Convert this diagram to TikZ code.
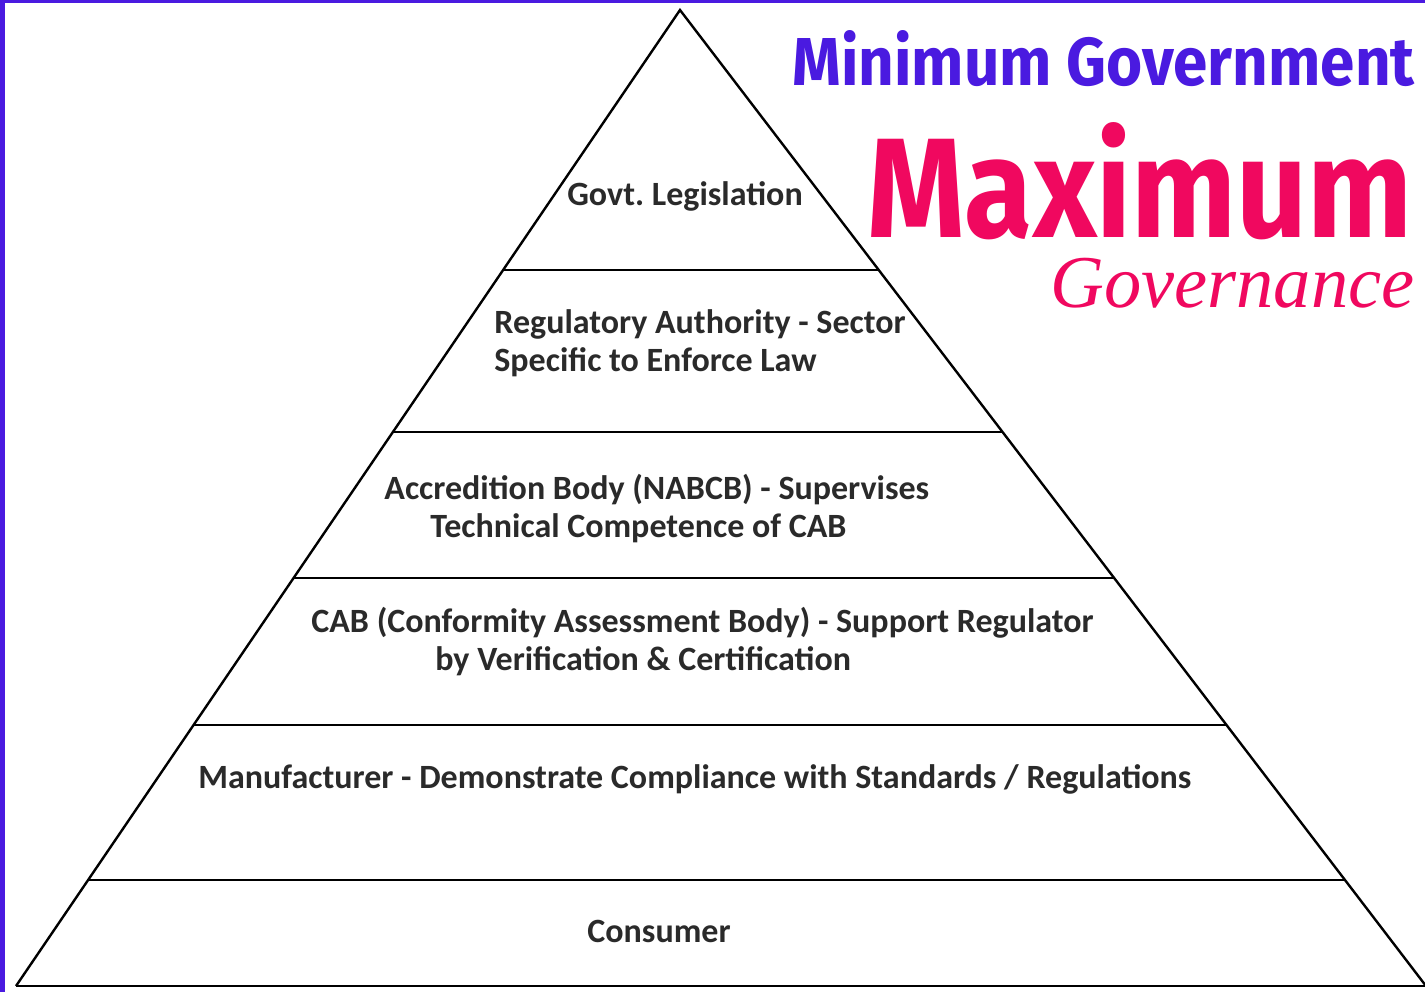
\documentclass[tikz,border=0pt]{standalone}
\usepackage{fontspec}
\usepackage{graphicx}
\setmainfont{Carlito}
\newfontfamily\titlefont{Fira Sans}
\newfontfamily\govfont{Liberation Serif}
\usetikzlibrary{calc}
\definecolor{framecol}{HTML}{4A1AE0}
\definecolor{magentacol}{HTML}{F0085F}
\definecolor{textcol}{HTML}{2A2A2A}
\tikzstyle{level} = [font=\fontsize{17}{20}\selectfont\bfseries, text=textcol, inner sep=0pt]
\tikzstyle{divider} = [black, line width=1.2pt]
\tikzstyle{title} = [inner sep=0pt, anchor=base east]

\begin{document}
\begin{tikzpicture}[x=0.5pt, y=-0.5pt]
		\useasboundingbox (0,0) rectangle (1425,992);
		\fill[white] (0,0) rectangle (1425,992);
		\fill[framecol] (0,0) rectangle (1425,3);
		\fill[framecol] (0,0) rectangle (5,992);
		
		\coordinate (apex) at (680,10);
		\coordinate (bl) at (16,986);
		\coordinate (br) at (1426,986);
		
		\draw [divider] (bl) -- (apex) -- (br);
		\draw [divider] (bl) -- (br);
		\draw [divider] ($(apex)!0.2664!(bl)$) -- ($(apex)!0.2664!(br)$);
		\draw [divider] ($(apex)!0.4324!(bl)$) -- ($(apex)!0.4324!(br)$);
		\draw [divider] ($(apex)!0.5820!(bl)$) -- ($(apex)!0.5820!(br)$);
		\draw [divider] ($(apex)!0.7326!(bl)$) -- ($(apex)!0.7326!(br)$);
		\draw [divider] ($(apex)!0.8914!(bl)$) -- ($(apex)!0.8914!(br)$);
		
		\node (gov) [level] at (685,196) {Govt.\ Legislation};
		\node (reg1) [level, anchor=west] at (494,324) {Regulatory Authority - Sector};
		\node (reg2) [level, anchor=west] at (494,362) {Specific to Enforce Law};
		\node (acc1) [level, anchor=west] at (384,490) {Accredition Body (NABCB) - Supervises};
		\node (acc2) [level, anchor=west] at (430,528) {Technical Competence of CAB};
		\node (cab1) [level, anchor=west] at (311,623) {CAB (Conformity Assessment Body) - Support Regulator};
		\node (cab2) [level, anchor=west] at (435,661) {by Verification \& Certification};
		\node (man) [level, anchor=west] at (198,779) {Manufacturer - Demonstrate Compliance with Standards / Regulations};
		\node (con) [level] at (659,931) {Consumer};
		
		\node (mingov) [title] at (1415,85) {\resizebox{311pt}{27.5pt}{\color{framecol}\titlefont\bfseries Minimum Government}};
		\node (maxi) [title] at (1413,237) {\resizebox{272.5pt}{57.5pt}{\color{magentacol}\titlefont\bfseries Maximum}};
		\node (govern) [title] at (1415,307) {\resizebox{182pt}{!}{\color{magentacol}\govfont\itshape Governance}};
	\end{tikzpicture}
\end{document}
